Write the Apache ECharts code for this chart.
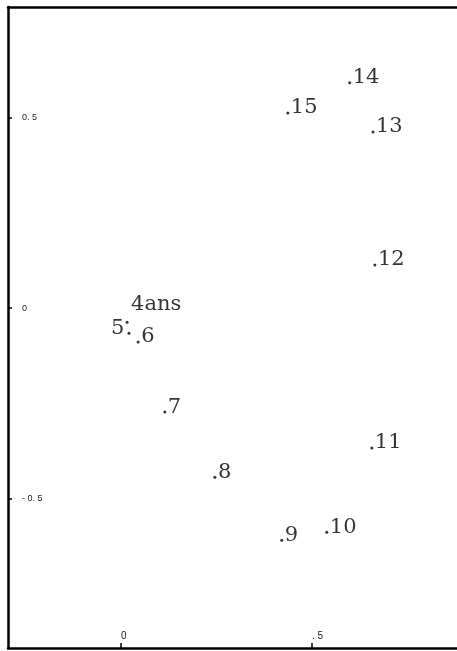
<!DOCTYPE html>
<html>
<head>
<meta charset="utf-8">
<title>plan factoriel</title>
<script src="https://cdn.jsdelivr.net/npm/echarts@6/dist/echarts.min.js"></script>
<style>
  body { margin: 0; background: #fff; overflow: hidden; }
  #main { width: 457px; height: 651px; }
</style>
</head>
<body>
<div id="main"></div>
<script>
// points (ages)
const ageLabels = ['4ans', '5', '6', '7', '8', '9', '10', '11', '12', '13', '14', '15'];
const xValues = [0.016, 0.021, 0.045, 0.115, 0.246, 0.421, 0.539, 0.657, 0.665, 0.660, 0.599, 0.437];
const yValues = [-0.037, -0.066, -0.089, -0.273, -0.444, -0.609, -0.588, -0.367, 0.113, 0.462, 0.591, 0.512];

const xTicks = [0, 0.5];
const yTicks = [-0.5, 0, 0.5];

const tickText = { '-0.5': '- 0. 5', '0': '0', '0.5': '0. 5' };
const xTickText = { '0': '0', '0.5': '. 5' };

function labelFor(name) {
  // default: text starts right of the dot, baseline on the dot
  const lab = {
    show: true, formatter: name, position: 'right', distance: 1.5, offset: [0, -5],
    fontFamily: 'DejaVu Serif', fontSize: 21, color: '#000'
  };
  if (name === '5') { lab.position = 'left'; lab.distance = 3; }
  if (name === '4ans') { lab.offset = [1, -18]; }
  return lab;
}

const points = ageLabels.map((n, i) => ({
  name: n,
  value: [xValues[i], yValues[i]],
  label: labelFor(n)
}));

const frame = { show: true, onZero: false, lineStyle: { color: '#000', width: 2.5 } };

const chart = echarts.init(document.getElementById('main'));
chart.setOption({
  animation: false,
  grid: { left: 8, top: 7, right: 0, bottom: 3, outerBoundsMode: 'none' },
  xAxis: [{
    type: 'value', min: -0.2958, max: 0.88,
    splitLine: { show: false },
    axisLine: frame,
    axisTick: { show: true, inside: true, length: 5, customValues: xTicks, lineStyle: { color: '#000', width: 1.5 } },
    axisLabel: {
      inside: true, margin: 7, customValues: xTicks, align: 'left',
      fontFamily: 'Liberation Sans', fontSize: 10, color: '#222',
      formatter: v => xTickText[String(v)]
    }
  }, {
    // top edge of the frame only
    type: 'value', position: 'top', min: -0.2958, max: 0.88,
    splitLine: { show: false }, axisLine: frame,
    axisTick: { show: false }, axisLabel: { show: false }
  }],
  yAxis: {
    type: 'value', min: -0.892, max: 0.790,
    splitLine: { show: false },
    axisLine: frame,
    axisTick: { show: true, inside: true, length: 4, customValues: yTicks, lineStyle: { color: '#000', width: 1.5 } },
    axisLabel: {
      inside: true, margin: 14, customValues: yTicks, align: 'left',
      fontFamily: 'Liberation Sans', fontSize: 9, color: '#222',
      formatter: v => tickText[String(v)]
    }
  },
  series: [{
    type: 'scatter',
    symbol: 'circle',
    symbolSize: 3,
    itemStyle: { color: '#000' },
    data: points
  }]
});
</script>
</body>
</html>
